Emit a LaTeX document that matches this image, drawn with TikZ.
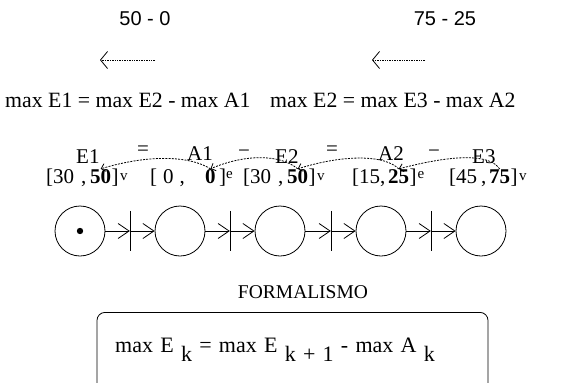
\documentclass[tikz,border=0pt]{standalone}
\usepackage{fontspec}
\setmainfont{Liberation Serif}
\newfontfamily\sansf{Liberation Sans}
\usetikzlibrary{arrows.meta}
\begin{document}
\begin{tikzpicture}[x=1pt,y=-1pt,
  font=\fontsize{21}{24}\selectfont,
  txt/.style={inner sep=0pt, anchor=base west},
  num/.style={inner sep=0pt, anchor=base west, font=\fontsize{21}{24}\selectfont\bfseries},
  st/.style={draw, circle, minimum size=50pt, inner sep=0pt, line width=0.8pt},
  barnode/.style={inner sep=0pt, minimum width=0pt, minimum height=40pt},
  flow/.style={line width=0.8pt, -{Straight Barb[length=11pt,width=15pt,line width=0.8pt]}},
  dep/.style={line width=0.8pt, dash pattern=on 2pt off 1.2pt, -{Straight Barb[length=4pt,width=8pt,line width=0.8pt]}},
  big/.style={line width=0.8pt, dash pattern=on 0.8pt off 0.9pt, -{Straight Barb[length=7pt,width=17pt,line width=0.8pt]}},
]
\useasboundingbox (0,0) rectangle (576,383);
\clip (0,0) rectangle (576,383);

% top numbers
\node[font=\sansf\fontsize{20}{22}\selectfont] (t1) at (145,19) {50 - 0};
\node[font=\sansf\fontsize{20}{22}\selectfont] (t2) at (445,19) {75 - 25};

% big dotted arrows
\coordinate (a1s) at (155,60); \coordinate (a1e) at (100,60);
\coordinate (a2s) at (425,60); \coordinate (a2e) at (372,60);
\draw[big] (a1s) -- (a1e);
\draw[big] (a2s) -- (a2e);

% formulas
\node[txt, font=\fontsize{21.8}{24}\selectfont] (f1) at (5,107) {max E1 = max E2 - max A1};
\node[txt, font=\fontsize{21.8}{24}\selectfont] (f2) at (270,107) {max E2 = max E3 - max A2};

% row of labels
\node[txt] (e1) at (76,163) {E1};
\node[txt] (q1) at (137,155) {=};
\node[txt] (l1) at (187,160) {A1};
\node[txt] (m1) at (238,157) {−};
\node[txt] (e2) at (275,163) {E2};
\node[txt] (q2) at (326,155) {=};
\node[txt] (l2) at (378,160) {A2};
\node[txt] (m2) at (428,157) {−};
\node[txt] (e3) at (472,163) {E3};

% intervals
\node[txt] (i1a) at (46,183) {[30\hspace{7pt},};
\node[num] (n1) at (90,183) {50};
\node[txt] (i1c) at (n1.base east) {]\hspace{1.5pt}\raisebox{3pt}{\fontsize{15}{15}\selectfont v}};

\node[txt] (i2a) at (150,183) {[\hspace{6pt}0\hspace{6pt},};
\node[num] (n2) at (205,183) {0};
\node[txt] (i2c) at (n2.base east) {\hspace{3pt}]\raisebox{5pt}{\fontsize{15}{15}\selectfont e}};

\node[txt] (i3a) at (243,183) {[30\hspace{7pt},};
\node[num] (n3) at (287,183) {50};
\node[txt] (i3c) at (n3.base east) {]\hspace{1.5pt}\raisebox{3pt}{\fontsize{15}{15}\selectfont v}};

\node[txt] (i4a) at (352,183) {[15,};
\node[num] (n4) at (388,183) {25};
\node[txt] (i4c) at (n4.base east) {]\hspace{1pt}\raisebox{5pt}{\fontsize{15}{15}\selectfont e}};

\node[txt] (i5a) at (449,183) {[45\hspace{4pt},};
\node[num] (n5) at (489,183) {75};
\node[txt] (i5c) at (n5.base east) {]\hspace{1.5pt}\raisebox{3pt}{\fontsize{15}{15}\selectfont v}};

% dependency curves
\draw[dep] (n2.north) .. controls (190,156) and (150,154) .. (n1.north);
\draw[dep] (n3.north) .. controls (280,154) and (245,154) .. (n2.north);
\draw[dep] (n4.north) .. controls (385,155) and (345,154) .. (n3.north);
\draw[dep] (n5.north) .. controls (490,154) and (455,154) .. (n4.north);

% states
\node[st] (c1) at (80,231) {};
\node[st] (c2) at (180,231) {};
\node[st] (c3) at (280,231) {};
\node[st] (c4) at (381,231) {};
\node[st] (c5) at (481,231) {};
\fill (c1.center) circle (3.2pt);

\node[barnode] (b1) at (130,231) {};
\node[barnode] (b2) at (230,231) {};
\node[barnode] (b3) at (331,231) {};
\node[barnode] (b4) at (431,231) {};
\foreach \b in {b1,b2,b3,b4} \draw[line width=0.8pt] (\b.north) -- (\b.south);

\draw[flow] (c1) -- (b1); \draw[flow] (b1) -- (c2);
\draw[flow] (c2) -- (b2); \draw[flow] (b2) -- (c3);
\draw[flow] (c3) -- (b3); \draw[flow] (b3) -- (c4);
\draw[flow] (c4) -- (b4); \draw[flow] (b4) -- (c5);

% formalism
\node[font=\fontsize{19.5}{22}\selectfont] (fm) at (303,292) {FORMALISMO};
\node[draw, rounded corners=8pt, line width=0.8pt, minimum width=391pt, minimum height=90pt, anchor=north, inner sep=0pt] (box) at (292.5,312) {};
\node[txt, font=\fontsize{22}{24}\selectfont] (ft) at (115,352) {\spaceskip=0.33em max E \raisebox{-9pt}{k} = max E \raisebox{-9pt}{k + 1} - max A \raisebox{-9pt}{k}};
\end{tikzpicture}
\end{document}
